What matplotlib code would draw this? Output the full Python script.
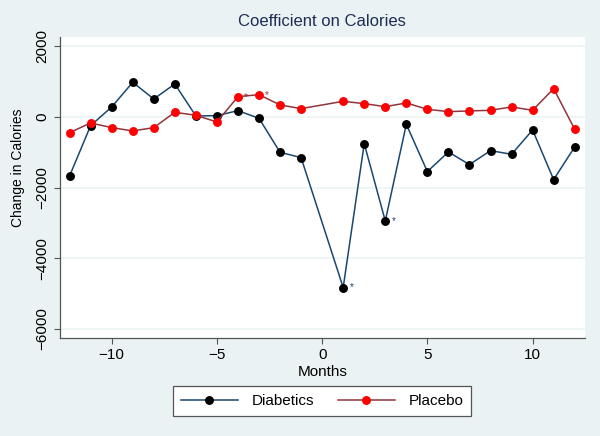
import matplotlib
matplotlib.use("Agg")
import matplotlib.pyplot as plt

plt.rcParams['font.family'] = ['Liberation Sans', 'DejaVu Sans']

# months relative to event (month 0 is the reference, not estimated)
months = [-12, -11, -10, -9, -8, -7, -6, -5, -4, -3, -2, -1,
          1, 2, 3, 4, 5, 6, 7, 8, 9, 10, 11, 12]
diabetics = [-1670, -245, 283, 981, 509, 934, 28, 38, 179, -38, -1000, -1151,
             -4830, -755, -2944, -208, -1547, -991, -1349, -953, -1057, -368, -1774, -849]
placebo = [-443, -170, -302, -396, -302, 132, 47, -142, 575, 632, 340, 236,
           443, 377, 292, 396, 217, 151, 170, 189, 283, 189, 802, -349]
# months with a significance star
diab_stars = [1, 3]
plac_stars = [-4, -3]

bg = '#EAF2F3'
navy = '#1A476F'
maroon = '#90353B'

fig = plt.figure(figsize=(6, 4.36), dpi=100, facecolor=bg)
ax = fig.add_axes([0.0995, 0.2255, 0.8755, 0.6889])
ax.set_facecolor('white')

ax.plot(months, diabetics, color=navy, lw=1.1, marker='o', ms=5.4,
        mfc='black', mec='black', label='Diabetics', zorder=3)
ax.plot(months, placebo, color=maroon, lw=1.1, marker='o', ms=5.4,
        mfc='red', mec='red', label='Placebo', zorder=3)

for m in diab_stars:
    ax.annotate('*', (m, diabetics[months.index(m)]), xytext=(4.5, 0),
                textcoords='offset points', fontsize=7, color=navy,
                ha='left', va='center', zorder=6)
for m in plac_stars:
    ax.annotate('*', (m, placebo[months.index(m)]), xytext=(4.5, 0),
                textcoords='offset points', fontsize=7, color=maroon,
                ha='left', va='center', zorder=6)

ax.set_xlim(-12.47, 12.49)
ax.set_ylim(-6250, 2255)
ax.set_xticks([-10, -5, 0, 5, 10])
ax.set_yticks([-6000, -4000, -2000, 0, 2000])
ax.yaxis.grid(True, color=bg, lw=1.1)
ax.set_axisbelow(True)
for s in ['top', 'right']:
    ax.spines[s].set_visible(False)
for s in ['left', 'bottom']:
    ax.spines[s].set_color('#555555')
    ax.spines[s].set_linewidth(0.9)
ax.tick_params(direction='out', length=4, width=0.8, color='#555555',
               labelsize=11)
plt.setp(ax.get_yticklabels(), rotation=90, va='center')

ax.set_xlabel('Months', fontsize=11, labelpad=2)
ax.set_ylabel('Change in Calories', fontsize=10)
ax.yaxis.set_label_coords(-0.066, 0.565)
ax.set_title('Coefficient on Calories', fontsize=12, color='#1E2D53', pad=8)

leg = fig.legend(loc='center', bbox_to_anchor=(0.537, 0.080), ncol=2,
                 fontsize=11, fancybox=False, edgecolor='#555555',
                 framealpha=1, handlelength=3.7, columnspacing=1.6,
                 borderpad=0.5, handletextpad=0.9)
leg.get_frame().set_linewidth(0.9)

fig.savefig('out.png', dpi=100, facecolor=bg)
